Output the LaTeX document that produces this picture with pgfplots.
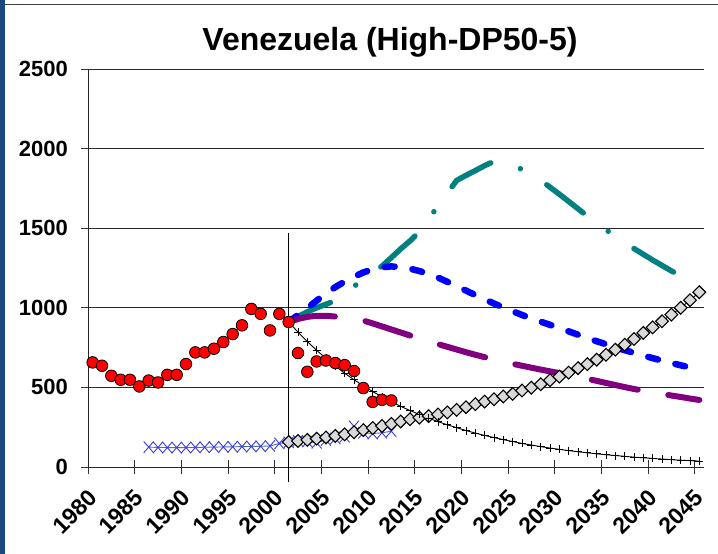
\documentclass[border=0pt]{standalone}
\usepackage{pgfplots}
\pgfplotsset{compat=1.18}
\usepackage{fontspec}
\setmainfont{Liberation Sans}
\definecolor{barblue}{RGB}{28,72,130}
\definecolor{xblue}{RGB}{60,60,225}
\definecolor{xline}{RGB}{80,110,170}
\definecolor{tealc}{RGB}{0,128,128}
\definecolor{purp}{RGB}{128,0,128}
\definecolor{diamg}{RGB}{217,217,217}
\begin{document}
\begin{tikzpicture}
\useasboundingbox (0,0) rectangle (718bp,-554bp);
\fill[white] (0,0) rectangle (718bp,-554bp);
\fill[barblue] (0,0) rectangle (5bp,-554bp);
\draw[black!75, line width=1.7bp] (5bp,-4.5bp) -- (718bp,-4.5bp);
\begin{axis}[
  at={(88bp,-467bp)}, anchor=south west,
  scale only axis, width=616bp, height=398bp,
  xmin=1979.5, xmax=2045.5, ymin=0, ymax=2500,
  axis x line*=bottom, axis y line*=left,
  ytick={0,500,1000,1500,2000,2500},
  yticklabels={0,500,1000,1500,2000,2500},
  xtick={1979.5,1984.5,1989.5,1994.5,1999.5,2004.5,2009.5,2014.5,2019.5,2024.5,2029.5,2034.5,2039.5,2044.5},
  xticklabels={1980,1985,1990,1995,2000,2005,2010,2015,2020,2025,2030,2035,2040,2045},
  ymajorgrids, grid style={black!85, line width=0.9bp},
  tick align=center, major tick length=14bp,
  tick style={black!80, line width=0.9bp},
  axis line style={black!85, line width=1bp},
  tick label style={font=\fontsize{22bp}{24bp}\selectfont\bfseries, inner sep=0pt},
  yticklabel style={anchor=east, xshift=-13bp},
  xticklabel style={font=\fontsize{23bp}{25bp}\selectfont\bfseries, xshift=4.9bp, yshift=-19.3bp, rotate=45, anchor=east},
  every axis title/.style={at={(0.4903,1)}, anchor=base, yshift=19bp, font=\fontsize{32bp}{34bp}\selectfont\bfseries},
  title={Venezuela (High-DP50-5)},
  clip=false,
]
% teal projection
\addplot[tealc, line width=5.5bp, line cap=round, dash pattern=on 46bp off 31bp on 0.01bp off 31bp] coordinates {
(2001,911)(2002,945)(2003,975)(2004,1000)(2005,1022)(2006,1045)(2007,1090)(2008,1135)(2009,1178)(2010,1218)
(2011,1262)(2012,1315)(2013,1370)(2014,1420)(2015,1478)(2016,1558)(2017,1640)(2018,1720)(2019,1800)(2020,1832)
(2021,1862)(2022,1893)(2023,1920)(2024,1905)(2025,1890)(2026,1870)(2027,1836)(2028,1800)(2029,1758)(2030,1714)
(2031,1668)(2032,1622)(2033,1576)(2034,1532)(2035,1490)(2036,1450)(2037,1410)(2038,1372)(2039,1336)(2040,1300)
(2041,1266)(2042,1232)(2043,1200)(2044,1167)(2045,1135)};
% blue projection
\addplot[blue, line width=6.5bp, line cap=round, dash pattern=on 10bp off 18bp] coordinates {
(2001,911)(2002,955)(2003,998)(2004,1045)(2005,1090)(2006,1130)(2007,1165)(2008,1195)(2009,1222)(2010,1242)
(2011,1255)(2012,1260)(2013,1256)(2014,1246)(2015,1231)(2016,1212)(2017,1190)(2018,1163)(2019,1135)(2020,1108)
(2021,1080)(2022,1053)(2023,1027)(2024,1002)(2025,978)(2026,955)(2027,933)(2028,913)(2029,893)(2030,873)
(2031,852)(2032,831)(2033,810)(2034,790)(2035,771)(2036,752)(2037,734)(2038,717)(2039,700)(2040,684)
(2041,668)(2042,653)(2043,639)(2044,625)(2045,612)};
% purple projection
\addplot[purp, line width=6bp, line cap=round, dash pattern=on 47bp off 31bp] coordinates {
(2001,911)(2002,930)(2003,943)(2004,950)(2005,950)(2006,945)(2007,937)(2008,929)(2009,920)(2010,902)
(2011,883)(2012,864)(2013,845)(2014,826)(2015,808)(2016,790)(2017,772)(2018,755)(2019,738)(2020,721)
(2021,705)(2022,690)(2023,675)(2024,661)(2025,648)(2026,636)(2027,624)(2028,612)(2029,601)(2030,590)
(2031,578)(2032,566)(2033,554)(2034,541)(2035,528)(2036,515)(2037,502)(2038,490)(2039,479)(2040,469)
(2041,459)(2042,449)(2043,440)(2044,430)(2045,421)};
% blue x series
\addplot[xline, line width=0.9bp, mark=x, mark size=7bp, mark options={xblue, line width=0.9bp, yscale=1.15}] coordinates {
(1986,125)(1987,123)(1988,122)(1989,122)(1990,122)(1991,123)(1992,124)(1993,125)(1994,126)(1995,127)
(1996,128)(1997,129)(1998,130)(1999,132)(2000,148)(2001,155)(2002,165)(2003,160)(2004,152)(2005,170)
(2006,180)(2007,190)(2008,255)(2009,215)(2010,210)(2011,215)(2012,225)};
% diamonds
\addplot[black, line width=0.9bp, mark=square*, mark size=4.5bp, mark options={rotate=45, fill=diamg, draw=black, line width=1.1bp}] coordinates {
(2001,157)(2002,163)(2003,170)(2004,178)(2005,186)(2006,195)(2007,205)(2008,218)(2009,232)(2010,245)
(2011,258)(2012,271)(2013,286)(2014,300)(2015,310)(2016,320)(2017,330)(2018,343)(2019,359)(2020,376)
(2021,395)(2022,411)(2023,426)(2024,443)(2025,459)(2026,480)(2027,498)(2028,520)(2029,545)(2030,568)
(2031,593)(2032,621)(2033,646)(2034,674)(2035,705)(2036,737)(2037,768)(2038,804)(2039,842)(2040,877)
(2041,915)(2042,957)(2043,1000)(2044,1048)(2045,1098)};
% black plus line
\addplot[black, line width=0.9bp, mark=+, mark size=4bp, mark options={line width=0.9bp}] coordinates {
(2001,911)(2002,847)(2003,788)(2004,733)(2005,682)(2006,634)(2007,589)(2008,548)(2009,510)(2010,474)
(2011,441)(2012,410)(2013,381)(2014,355)(2015,330)(2016,307)(2017,285)(2018,265)(2019,247)(2020,229)
(2021,213)(2022,198)(2023,185)(2024,172)(2025,160)(2026,148)(2027,138)(2028,128)(2029,119)(2030,111)
(2031,103)(2032,96)(2033,89)(2034,83)(2035,77)(2036,72)(2037,67)(2038,62)(2039,58)(2040,54)
(2041,50)(2042,46)(2043,43)(2044,40)(2045,37)};
% red historical
\addplot[only marks, mark=*, mark size=5.8bp, mark options={fill=red, draw=black, line width=0.8bp}] coordinates {
(1980,657)(1981,636)(1982,573)(1983,548)(1984,548)(1985,506)(1986,543)(1987,531)(1988,579)(1989,579)
(1990,647)(1991,720)(1992,720)(1993,743)(1994,785)(1995,835)(1996,890)(1997,993)(1998,962)(1999,858)
(2000,962)(2001,911)(2002,716)(2003,598)(2004,663)(2005,669)(2006,653)(2007,640)(2008,603)(2009,496)
(2010,409)(2011,422)(2012,418)};
% vertical divider
\addplot[black, line width=1.3bp] coordinates {(2001,-94)(2001,1473)};
\end{axis}
\end{tikzpicture}
\end{document}
